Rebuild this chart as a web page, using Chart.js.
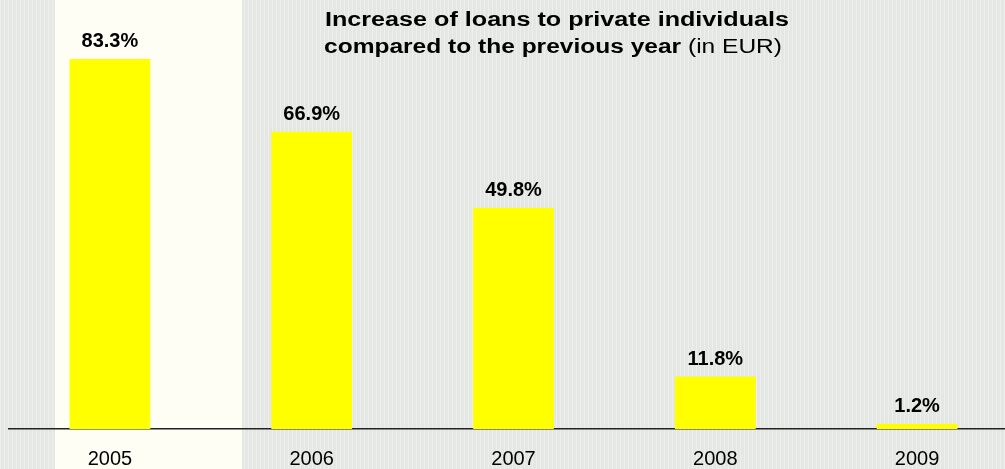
<!DOCTYPE html>
<html>
<head>
<meta charset="utf-8">
<script src="https://cdn.jsdelivr.net/npm/chart.js@4"></script>
<style>
  html, body { margin: 0; padding: 0; overflow: hidden; background: #e5e7e5; }
  #wrap { position: relative; width: 1005px; height: 469px; overflow: hidden; }
  canvas { position: absolute; left: 0; top: 0; }
</style>
</head>
<body>
<div id="wrap"><canvas id="loansChart" width="1020" height="469"></canvas></div>
<script>
// Data
const years = ['2005', '2006', '2007', '2008', '2009'];
const growth = [83.3, 66.9, 49.8, 11.8, 1.2];
const titleLine1 = 'Increase of loans to private individuals';
const titleLine2Bold = 'compared to the previous year';
const titleLine2Plain = ' (in EUR)';

const FONT = '"Liberation Sans", Arial, sans-serif';

// Paint the background: grey paper with a cream band on the left
const backgroundPlugin = {
  id: 'paper',
  beforeDraw(chart) {
    const c = chart.ctx;
    c.save();
    c.fillStyle = '#e5e7e5';
    c.fillRect(0, 0, chart.width, chart.height);
    // faint vertical texture
    c.fillStyle = 'rgba(255,255,255,0.3)';
    for (let x = 0; x < chart.width; x += 4) c.fillRect(x, 0, 1, chart.height);
    c.fillStyle = '#fefef4';
    c.fillRect(55, 0, 187, chart.height);
    c.restore();
  }
};

// draw a text run squeezed/stretched to a given width
function drawWide(c, parts, cx, baseline, targetWidth) {
  let total = 0;
  parts.forEach(p => { c.font = p.font; p.w = c.measureText(p.text).width; total += p.w; });
  const k = targetWidth / total;
  c.save();
  c.translate(cx - targetWidth / 2, baseline);
  c.scale(k, 1);
  let x = 0;
  parts.forEach(p => { c.font = p.font; c.fillText(p.text, x, 0); x += p.w; });
  c.restore();
}

// Percent labels above the bars and the two-line title
const labelsPlugin = {
  id: 'valueLabels',
  afterDatasetsDraw(chart) {
    const c = chart.ctx;
    c.save();
    c.fillStyle = '#000';
    c.font = 'bold 20px ' + FONT;
    c.textAlign = 'center';
    c.textBaseline = 'alphabetic';
    chart.getDatasetMeta(0).data.forEach((bar, i) => {
      c.fillText(growth[i].toFixed(1) + '%', bar.x, bar.y - 12);
    });

    // title
    c.textAlign = 'left';
    const boldFont = 'bold 20px ' + FONT;
    const plainFont = '20px ' + FONT;
    drawWide(c, [{ text: titleLine1, font: boldFont }], 557, 26, 464);
    drawWide(c, [{ text: titleLine2Bold, font: boldFont },
                 { text: titleLine2Plain, font: plainFont }], 553, 53, 458);
    c.restore();
  }
};

const ctx = document.getElementById('loansChart').getContext('2d');
new Chart(ctx, {
  type: 'bar',
  data: {
    labels: years,
    datasets: [{
      data: growth,
      backgroundColor: '#ffff00',
      borderWidth: 0,
      barPercentage: 0.4,
      categoryPercentage: 1.0
    }]
  },
  options: {
    responsive: false,
    animation: false,
    layout: { padding: { left: 9, right: 2, top: 7, bottom: 0 } },
    plugins: {
      legend: { display: false },
      tooltip: { enabled: false },
      title: { display: false }
    },
    scales: {
      x: {
        grid: { display: false, drawTicks: false },
        border: { display: true, color: '#222', width: 1.5 },
        ticks: {
          color: '#000',
          padding: 18,
          font: { family: FONT, size: 20 }
        },
        afterFit(scale) { scale.height = 40; }
      },
      y: {
        display: false,
        min: 0,
        max: 95
      }
    }
  },
  plugins: [backgroundPlugin, labelsPlugin]
});
</script>
</body>
</html>
